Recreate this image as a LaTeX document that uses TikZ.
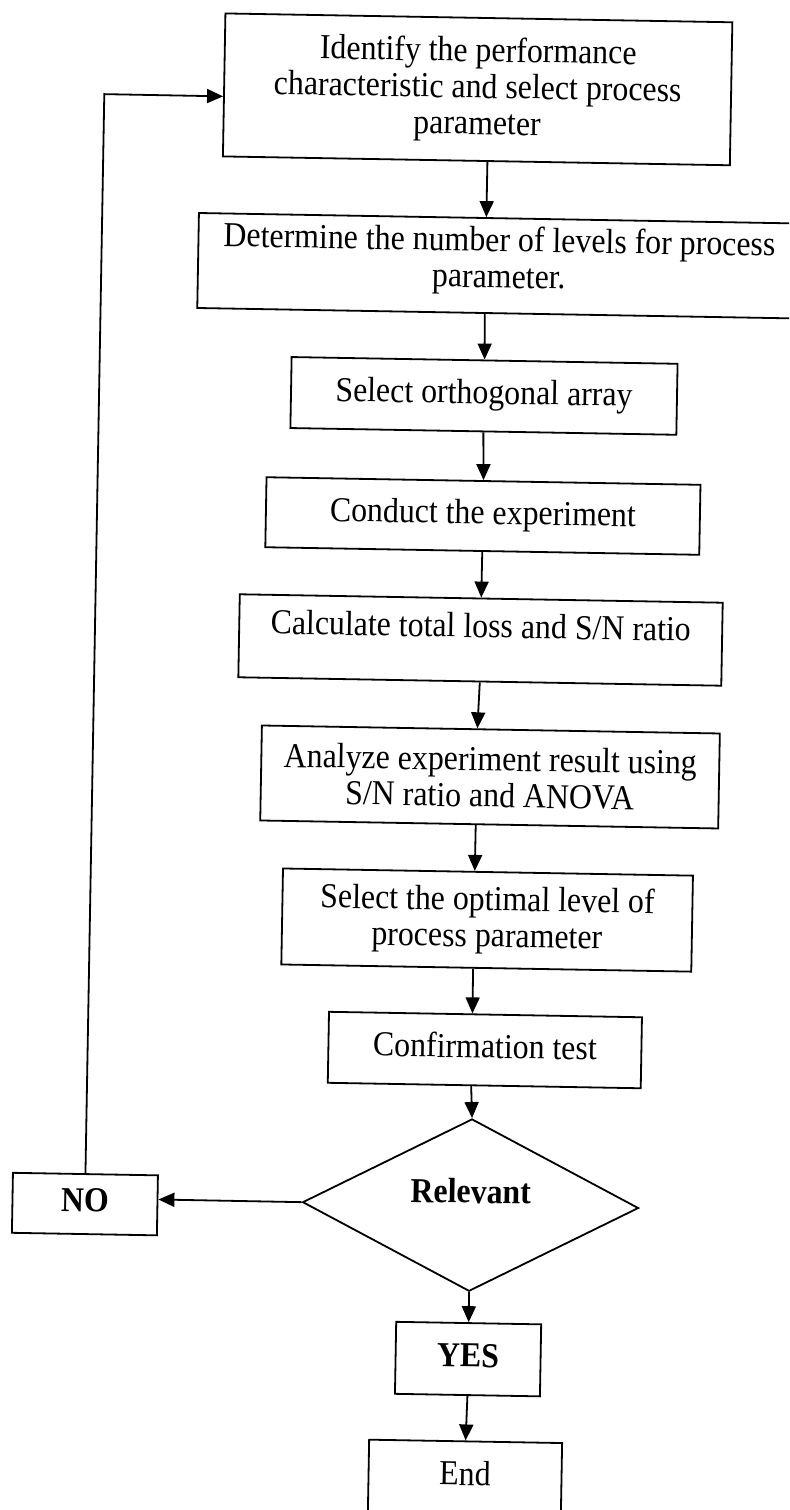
\documentclass[tikz,border=0pt]{standalone}
\usepackage{fontspec}
\setmainfont{Liberation Serif}[FakeStretch=0.91]
\usetikzlibrary{arrows.meta,shapes.geometric,calc}

\begin{document}
\begin{tikzpicture}[x=0.5pt,y=-0.5pt,
  txt/.style={font=\fontsize{17.5}{18.2}\selectfont},
  flowbox/.style={txt,draw,line width=0.9pt,rectangle,inner sep=0pt,align=center},
  oneline/.style={flowbox,text height=12.25pt,text depth=4.4pt},
  boldtxt/.style={font=\fontsize{17.5}{18.2}\selectfont\bfseries},
  decision/.style={draw,line width=0.9pt,diamond,inner sep=0pt,
    minimum width=168pt,minimum height=69.5pt,boldtxt,
    text height=12pt,text depth=14pt},
  flowarrow/.style={line width=0.9pt,-{Triangle[length=8pt,width=7pt]}},
]
% page frame
\useasboundingbox (0,0) rectangle (789,1510);
\fill[white] (0,0) rectangle (789,1510);
\clip (0,0) rectangle (789,1510);

\begin{scope}[rotate around={-1.0:(394.5,755)},transform shape]
  % process steps
  \node[flowbox,minimum width=253.5pt,minimum height=71.5pt] (b1) at (466,88)
    {Identify the performance\\characteristic and select process\\parameter};
  \node[flowbox,minimum width=301pt,minimum height=47.5pt,text depth=8.5pt] (b2) at (490.5,264)
    {Determine the number of levels for process\\parameter.};
  \node[oneline,minimum width=193pt,minimum height=35.5pt] (b3) at (477.7,394.4)
    {Select orthogonal array};
  \node[oneline,minimum width=217pt,minimum height=35pt] (b4) at (478.7,514.5)
    {Conduct the experiment};
  \node[flowbox,minimum width=241.5pt,minimum height=41.5pt,text height=12pt,text depth=14.5pt] (b5) at (478.5,638.5)
    {Calculate total loss and S/N ratio};
  \node[flowbox,minimum width=229pt,minimum height=47.5pt] (b6) at (490.4,775.3)
    {Analyze experiment result using\\S/N ratio and ANOVA};
  \node[flowbox,minimum width=205pt,minimum height=48pt] (b7) at (490,918.4)
    {Select the optimal level of\\process parameter};
  \node[oneline,minimum width=156.5pt,minimum height=35.5pt] (b8) at (490,1048.4)
    {Confirmation test};

  % decision and outcomes
  \node[decision] (dec) at (478.4,1203.7) {Relevant};
  \node[oneline,boldtxt,minimum width=72.5pt,minimum height=30pt] (no) at (92.8,1209.4) {NO};
  \node[oneline,boldtxt,minimum width=72.5pt,minimum height=36pt] (yes) at (478.6,1357.7) {YES};
  \node[oneline,minimum width=96.5pt,minimum height=36pt] (fin) at (477.6,1476) {End};
  \coordinate (corner) at (92.8,99.3);

  % main flow
  \draw[flowarrow] ($(b1.south west)!0.5217!(b1.south east)$) -- ($(b2.north west)!0.4776!(b2.north east)$);
  \draw[flowarrow] ($(b2.south west)!0.4776!(b2.south east)$) -- (b3.north);
  \draw[flowarrow] (b3.south) -- (b4.north);
  \draw[flowarrow] (b4.south) -- (b5.north);
  \draw[flowarrow] (b5.south) -- ($(b6.north west)!0.4707!(b6.north east)$);
  \draw[flowarrow] ($(b6.south west)!0.4707!(b6.south east)$) -- ($(b7.north west)!0.468!(b7.north east)$);
  \draw[flowarrow] ($(b7.south west)!0.468!(b7.south east)$) -- ($(b8.north west)!0.4585!(b8.north east)$);
  \draw[flowarrow] ($(b8.south west)!0.4585!(b8.south east)$) -- (dec.north);
  \draw[flowarrow] (dec.south) -- (yes.north);
  \draw[flowarrow] (yes.south) -- (fin.north);

  % rejection branch and loop back
  \draw[flowarrow] (dec.west) -- ($(no.north east)!0.405!(no.south east)$);
  \draw[flowarrow] (no.north) -- (corner) -- ($(b1.north west)!0.579!(b1.south west)$);
\end{scope}
\end{tikzpicture}
\end{document}
